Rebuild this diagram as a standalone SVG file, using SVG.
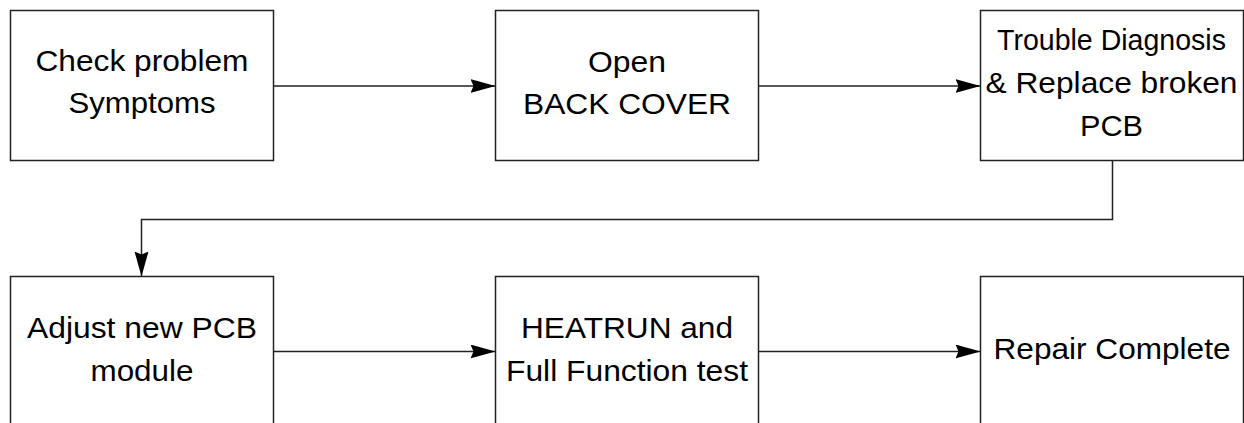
<svg xmlns="http://www.w3.org/2000/svg" width="1244" height="423" viewBox="0 0 1244 423">
<style>
.box{fill:#fff;stroke:#222;stroke-width:1.5}
.t{font-family:"Liberation Sans",Arial,sans-serif;font-size:30px;fill:#000;text-anchor:middle}
.c{fill:none;stroke:#222;stroke-width:1.5}
</style>
<defs>
<marker id="ah" markerUnits="userSpaceOnUse" markerWidth="26" markerHeight="16" refX="25" refY="7" orient="auto">
<path d="M0,0 L25,7 L0,14 L3,7 Z" fill="#000"/>
</marker>
</defs>
<rect width="1244" height="423" fill="#fff"/>
<g id="connectors">
<line class="c" x1="273.5" y1="86" x2="495.5" y2="86" marker-end="url(#ah)"/>
<line class="c" x1="758.5" y1="86" x2="980.5" y2="86" marker-end="url(#ah)"/>
<polyline class="c" points="1112.5,160.5 1112.5,219.5 141.5,219.5 141.5,276.5" marker-end="url(#ah)"/>
<line class="c" x1="273.5" y1="351.5" x2="495.5" y2="351.5" marker-end="url(#ah)"/>
<line class="c" x1="758.5" y1="351.5" x2="980.5" y2="351.5" marker-end="url(#ah)"/>
</g>
<g id="n1">
<rect class="box" x="10.5" y="10.5" width="263" height="150"/>
<text class="t" x="142" y="71" textLength="213" lengthAdjust="spacingAndGlyphs">Check problem</text>
<text class="t" x="142" y="113" textLength="147" lengthAdjust="spacingAndGlyphs">Symptoms</text>
</g>
<g id="n2">
<rect class="box" x="495.5" y="10.5" width="263" height="150"/>
<text class="t" x="627" y="72" textLength="78" lengthAdjust="spacingAndGlyphs">Open</text>
<text class="t" x="627" y="114" textLength="208" lengthAdjust="spacingAndGlyphs">BACK COVER</text>
</g>
<g id="n3">
<rect class="box" x="980.5" y="10.5" width="263" height="150"/>
<text class="t" x="1111.5" y="50" textLength="229" lengthAdjust="spacingAndGlyphs">Trouble Diagnosis</text>
<text class="t" x="1111.5" y="93" textLength="252" lengthAdjust="spacingAndGlyphs">&amp; Replace broken</text>
<text class="t" x="1111.5" y="136" textLength="63" lengthAdjust="spacingAndGlyphs">PCB</text>
</g>
<g id="n4">
<rect class="box" x="10.5" y="276.5" width="263" height="150"/>
<text class="t" x="142" y="338" textLength="230" lengthAdjust="spacingAndGlyphs">Adjust new PCB</text>
<text class="t" x="142" y="381" textLength="103" lengthAdjust="spacingAndGlyphs">module</text>
</g>
<g id="n5">
<rect class="box" x="495.5" y="276.5" width="263" height="150"/>
<text class="t" x="627" y="338" textLength="212" lengthAdjust="spacingAndGlyphs">HEATRUN and</text>
<text class="t" x="627" y="381" textLength="242" lengthAdjust="spacingAndGlyphs">Full Function test</text>
</g>
<g id="n6">
<rect class="box" x="980.5" y="276.5" width="263" height="150"/>
<text class="t" x="1112" y="359" textLength="237" lengthAdjust="spacingAndGlyphs">Repair Complete</text>
</g>
</svg>
